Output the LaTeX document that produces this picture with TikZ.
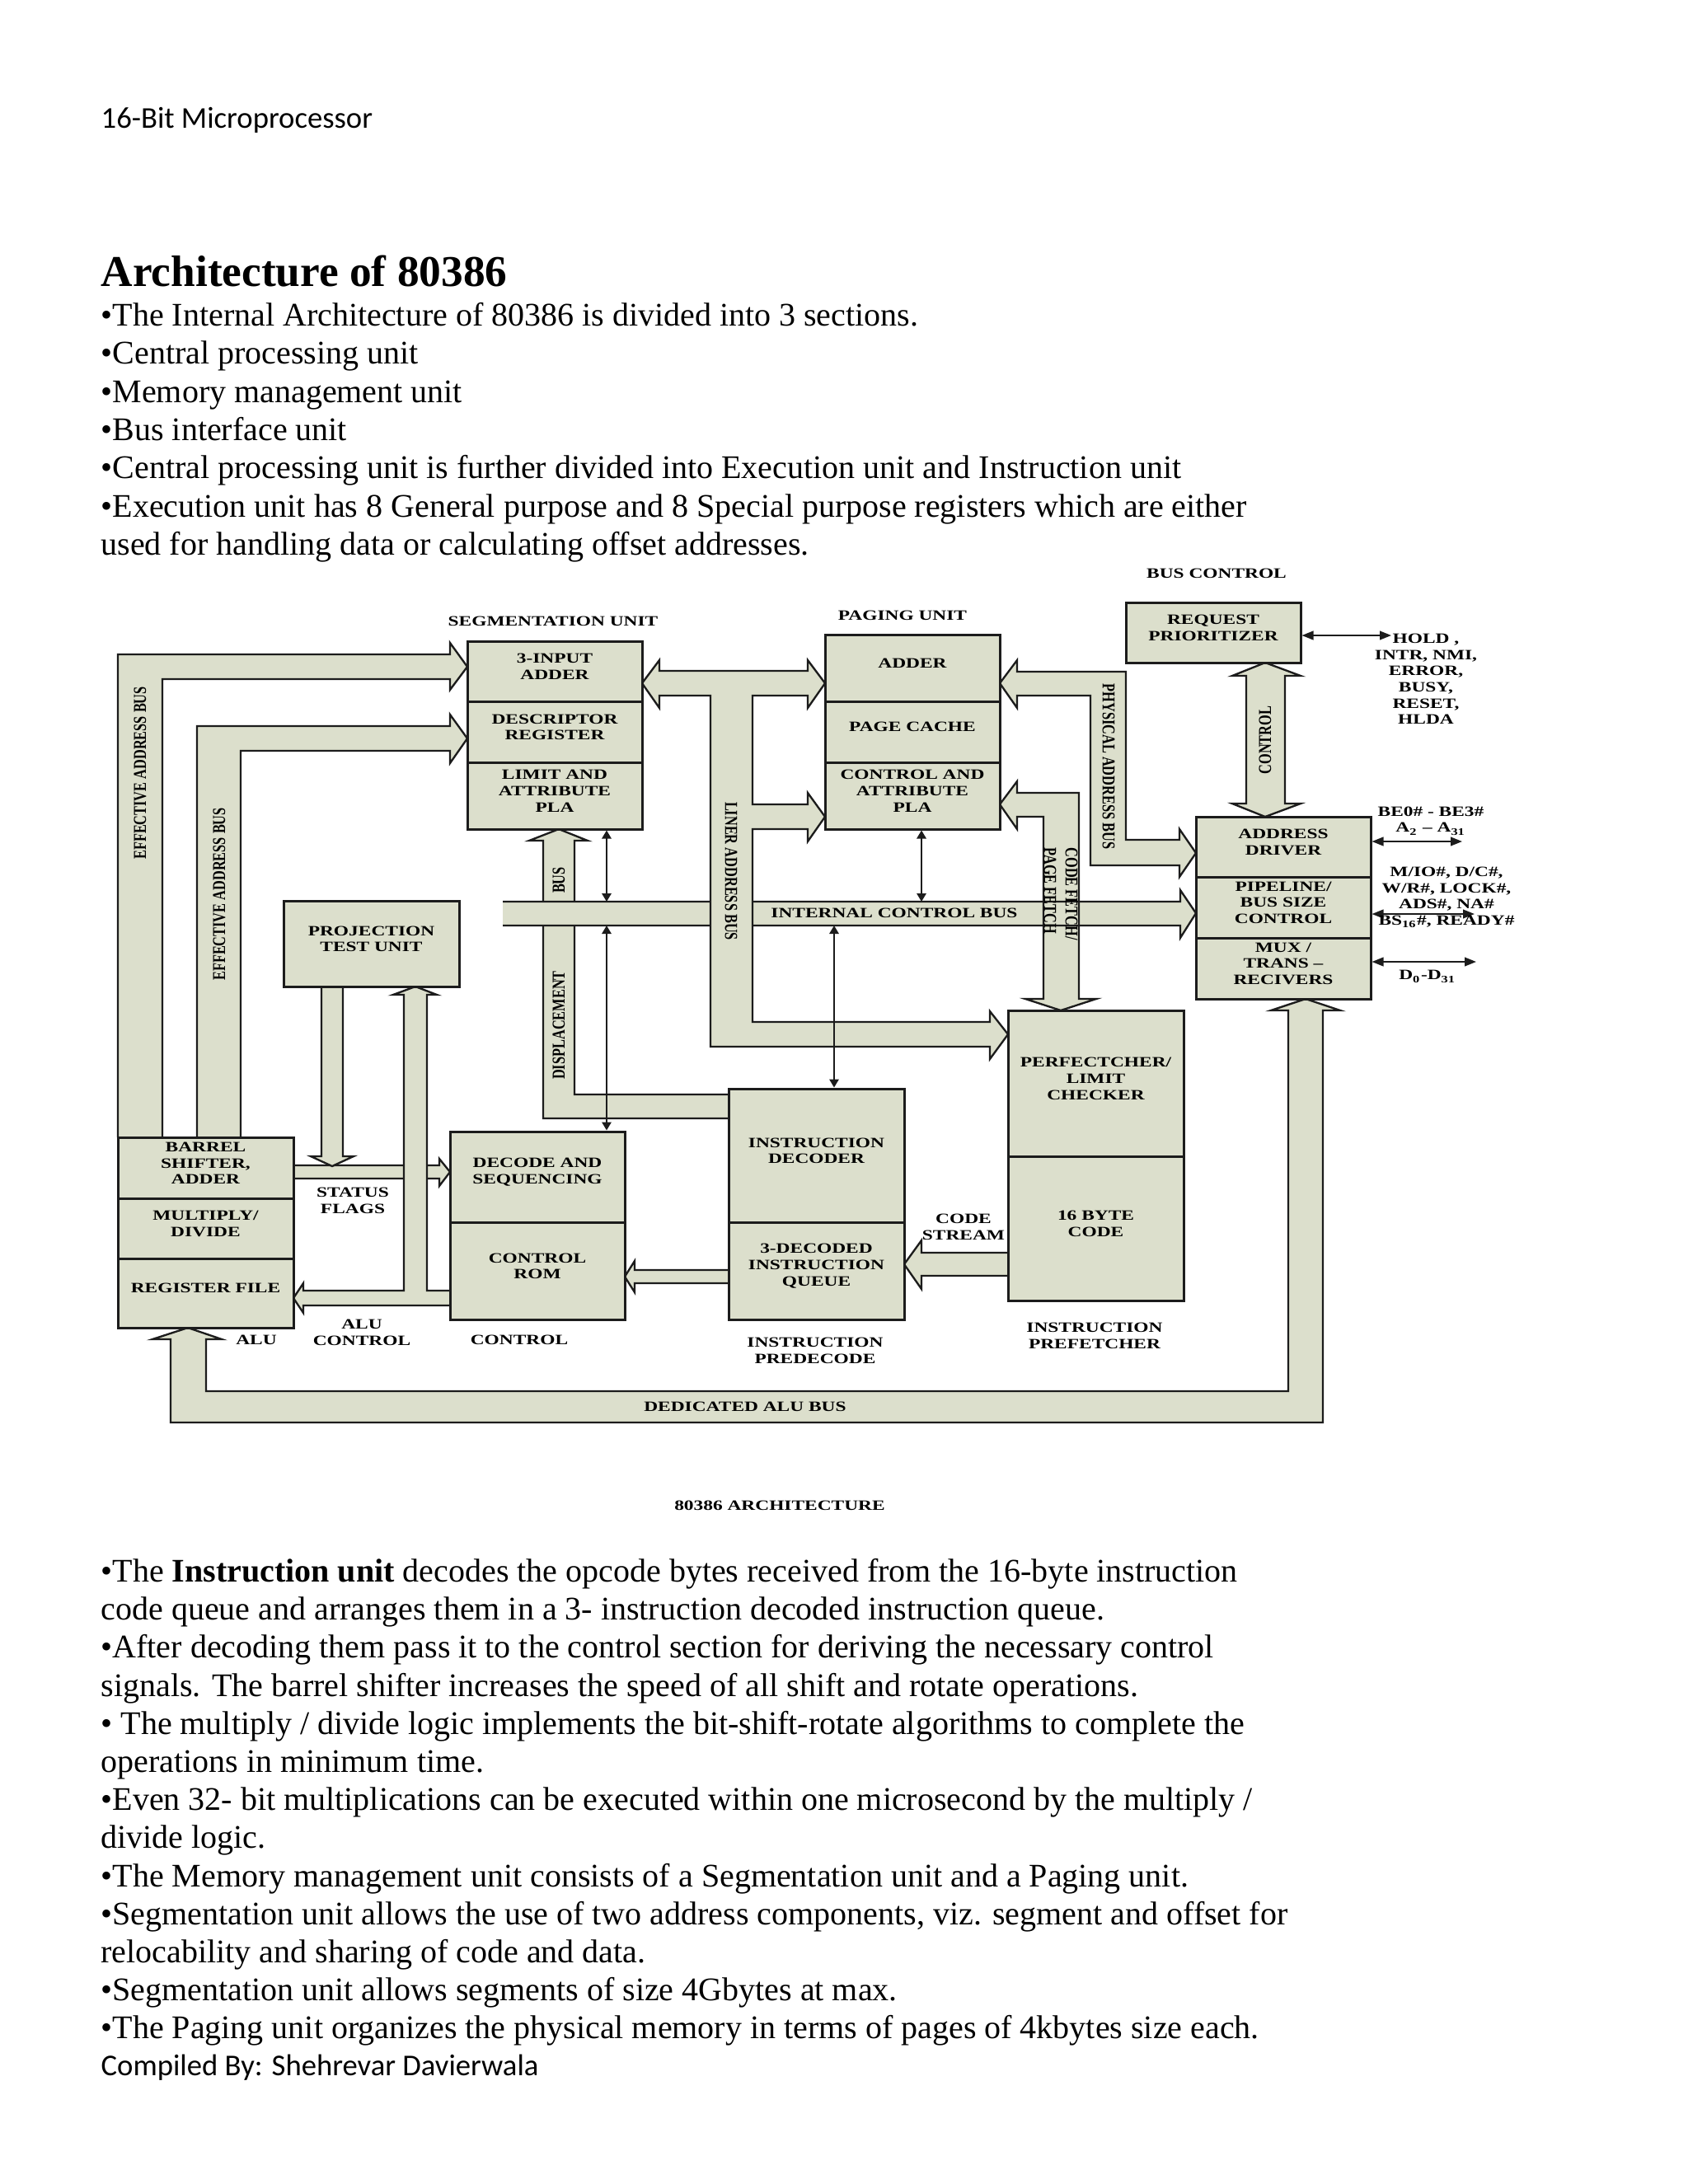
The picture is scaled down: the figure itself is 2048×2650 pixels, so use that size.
\documentclass[tikz,border=0pt]{standalone}
\usepackage{fontspec}
\usepackage{graphicx}
\setmainfont{Liberation Serif}
\newfontfamily\hdrfont{Carlito}
\newfontfamily\dgfont[FakeStretch=1.35]{Liberation Serif}
\newfontfamily\dgrfont{Liberation Serif}
\usetikzlibrary{arrows.meta,fit}
\definecolor{bfill}{RGB}{220,223,204}
\definecolor{lc}{RGB}{28,28,28}
\newcommand\dgf{\dgfont\bfseries\fontsize{5.2}{5.9}\selectfont}
\newcommand\dgrf{\dgrfont\bfseries\fontsize{4.9}{5.5}\selectfont}
\newcommand\busopen[1]{\fill[bfill] #1 -- cycle; \draw[busline] #1;}
\newcommand\busclosed[1]{\filldraw[fill=bfill,busline] #1 -- cycle;}
\begin{document}
\begin{tikzpicture}[x=0.3pt,y=-0.3pt,
  busline/.style={draw=lc,line width=0.7pt,line join=miter},
  blk/.style={draw=lc,line width=0.9pt,fill=bfill,inner sep=0pt,align=center,font=\dgf},
  lbl/.style={inner sep=0pt,align=center,font=\dgf},
  rlbl/.style={inner sep=0pt,font=\dgrf},
  dbl/.style={draw=lc,line width=0.6pt,<->,>={Triangle[length=3pt,width=3.4pt]}},
  sig/.style={draw=lc,line width=0.6pt,<->,>={Triangle[length=4.2pt,width=3.2pt]}},
  body/.style={anchor=base west,inner sep=0pt,font=\fontsize{12}{14}\selectfont},
  hdr/.style={anchor=base west,inner sep=0pt,font=\hdrfont\fontsize{11}{13}\selectfont},
]
\path[use as bounding box,fill=white] (0,0) rectangle (2048,2650);

% ---------- page text ----------
\node[hdr] (hdr) at (122,155) {16-Bit Microprocessor};
\node[body,font=\bfseries\fontsize{16}{19}\selectfont] (title) at (122,347) {Architecture of 80386};
\node[body] (b1) at (122,395) {•The Internal Architecture of 80386 is divided into 3 sections.};
\node[body] (b2) at (122,441) {•Central processing unit};
\node[body] (b3) at (122,488) {•Memory management unit};
\node[body] (b4) at (122,534) {•Bus interface unit};
\node[body] (b5) at (122,580) {•Central processing unit is further divided into Execution unit and Instruction unit};
\node[body] (b6) at (122,627) {•Execution unit has 8 General purpose and 8 Special purpose registers which are either};
\node[body] (b7) at (122,673) {used for handling data or calculating offset addresses.};

\node[body] (c1) at (122,1919) {•The \textbf{Instruction unit} decodes the opcode bytes received from the 16-byte instruction};
\node[body] (c2) at (122,1965) {code queue and arranges them in a 3- instruction decoded instruction queue.};
\node[body] (c3) at (122,2011) {•After decoding them pass it to the control section for deriving the necessary control};
\node[body] (c4) at (122,2058) {signals. The barrel shifter increases the speed of all shift and rotate operations.};
\node[body] (c5) at (122,2104) {• The multiply / divide logic implements the bit-shift-rotate algorithms to complete the};
\node[body] (c6) at (122,2150) {operations in minimum time.};
\node[body] (c7) at (122,2196) {•Even 32- bit multiplications can be executed within one microsecond by the multiply /};
\node[body] (c8) at (122,2242) {divide logic.};
\node[body] (c9) at (122,2289) {•The Memory management unit consists of a Segmentation unit and a Paging unit.};
\node[body] (c10) at (122,2335) {•Segmentation unit allows the use of two address components, viz. segment and offset for};
\node[body] (c11) at (122,2381) {relocability and sharing of code and data.};
\node[body] (c12) at (122,2427) {•Segmentation unit allows segments of size 4Gbytes at max.};
\node[body] (c13) at (122,2473) {•The Paging unit organizes the physical memory in terms of pages of 4kbytes size each.};
\node[hdr] (ftr) at (122,2518) {Compiled By: Shehrevar Davierwala};

% ---------- buses (fat arrows) ----------
% dedicated ALU bus
\busclosed{(228,1611) -- (269,1625) -- (250,1625) -- (250,1688) -- (1563,1688) -- (1563,1226) -- (1542,1226) -- (1584,1212) -- (1626,1226) -- (1605,1226) -- (1605,1726) -- (207,1726) -- (207,1625) -- (185,1625)}
% effective address buses
\busopen{(143,1380) -- (143,794) -- (546,794) -- (546,780) -- (567,809) -- (546,837) -- (546,824) -- (197,824) -- (197,1380)}
\busopen{(239,1380) -- (239,881) -- (546,881) -- (546,867) -- (567,896) -- (546,926) -- (546,911) -- (292,911) -- (292,1380)}
% bus / displacement
\busopen{(884,1357) -- (659,1357) -- (659,1020) -- (642,1020) -- (678,1006) -- (713,1020) -- (697,1020) -- (697,1328) -- (884,1328)}
% code fetch and internal control bus (crossing)
\fill[bfill] (1213,976) -- (1234,948) -- (1234,962) -- (1309,962) -- (1309,1212) -- (1330,1212) -- (1287,1226) -- (1244,1212) -- (1266,1212) -- (1266,991) -- (1234,991) -- (1234,1006) -- cycle;
\fill[bfill] (610,1094) -- (1432,1094) -- (1432,1080) -- (1451,1108) -- (1432,1138) -- (1432,1123) -- (610,1123) -- cycle;
\draw[busline] (610,1094) -- (1432,1094) -- (1432,1080) -- (1451,1108) -- (1432,1138) -- (1432,1123) -- (610,1123);
\draw[busline] (1213,976) -- (1234,948) -- (1234,962) -- (1309,962) -- (1309,1212) -- (1330,1212) -- (1287,1226) -- (1244,1212) -- (1266,1212) -- (1266,991) -- (1234,991) -- (1234,1006) -- cycle;
% segmentation <-> paging + liner address bus
\busclosed{(779,829) -- (800,801) -- (800,814) -- (980,814) -- (980,801) -- (1001,829) -- (980,859) -- (980,844) -- (913,844) -- (913,976) -- (980,976) -- (980,962) -- (1001,991) -- (980,1021) -- (980,1006) -- (913,1006) -- (913,1240) -- (1201,1240) -- (1201,1227) -- (1223,1255) -- (1201,1285) -- (1201,1270) -- (862,1270) -- (862,844) -- (800,844) -- (800,859)}
% physical address bus
\busclosed{(1213,829) -- (1234,801) -- (1234,815) -- (1366,815) -- (1366,1019) -- (1431,1019) -- (1431,1006) -- (1451,1035) -- (1431,1064) -- (1431,1050) -- (1323,1050) -- (1323,844) -- (1234,844) -- (1234,859)}
% control (request prioritizer <-> address driver)
\busclosed{(1535,804) -- (1578,820) -- (1559,820) -- (1559,975) -- (1578,975) -- (1535,991) -- (1495,975) -- (1512,975) -- (1512,820) -- (1495,820)}
% status flags
\busopen{(356,1414) -- (533,1414) -- (533,1406) -- (546,1422) -- (533,1439) -- (533,1430) -- (356,1430)}
% projection test unit -> status flags
\busopen{(390,1197) -- (390,1403) -- (377,1403) -- (403,1415) -- (429,1403) -- (416,1403) -- (416,1197)}
% ALU control + up to projection test unit
\busopen{(546,1566) -- (518,1566) -- (518,1207) -- (530,1207) -- (504,1197) -- (477,1207) -- (490,1207) -- (490,1566) -- (368,1566) -- (368,1557) -- (356,1575) -- (368,1593) -- (368,1584) -- (546,1584)}
% queue -> control ROM
\busopen{(884,1541) -- (770,1541) -- (770,1530) -- (758,1549) -- (770,1568) -- (770,1557) -- (884,1557)}
% code stream
\busopen{(1223,1520) -- (1118,1520) -- (1118,1505) -- (1097,1534) -- (1118,1564) -- (1118,1548) -- (1223,1548)}

% ---------- blocks ----------
\node[blk,fit={(567,778)(779,851)}] (seg1) {3-INPUT\\ADDER};
\node[blk,fit={(567,851)(779,925)}] (seg2) {DESCRIPTOR\\REGISTER};
\node[blk,fit={(567,925)(779,1006)}] (seg3) {LIMIT AND\\ATTRIBUTE\\PLA};
\node[blk,fit={(1001,770)(1213,851)}] (pg1) {ADDER};
\node[blk,fit={(1001,851)(1213,925)}] (pg2) {PAGE CACHE};
\node[blk,fit={(1001,925)(1213,1006)}] (pg3) {CONTROL AND\\ATTRIBUTE\\PLA};
\node[blk,fit={(1366,731)(1578,804)}] (req) {REQUEST\\PRIORITIZER};
\node[blk,fit={(1451,991)(1663,1064)}] (biu1) {ADDRESS\\DRIVER};
\node[blk,fit={(1451,1064)(1663,1138)}] (biu2) {PIPELINE/\\BUS SIZE\\CONTROL};
\node[blk,fit={(1451,1138)(1663,1212)}] (biu3) {MUX /\\TRANS –\\RECIVERS};
\node[blk,fit={(344,1093)(557,1197)}] (ptu) {PROJECTION\\TEST UNIT};
\node[blk,fit={(143,1380)(356,1454)}] (alu1) {BARREL\\SHIFTER,\\ADDER};
\node[blk,fit={(143,1454)(356,1527)}] (alu2) {MULTIPLY/\\DIVIDE};
\node[blk,fit={(143,1527)(356,1611)}] (alu3) {REGISTER FILE};
\node[blk,fit={(546,1373)(758,1483)}] (dec1) {DECODE AND\\SEQUENCING};
\node[blk,fit={(546,1483)(758,1601)}] (dec2) {CONTROL\\ROM};
\node[blk,fit={(884,1321)(1097,1483)}] (id1) {INSTRUCTION\\DECODER};
\node[blk,fit={(884,1483)(1097,1601)}] (id2) {3-DECODED\\INSTRUCTION\\QUEUE};
\node[blk,fit={(1223,1226)(1436,1403)}] (pf1) {PERFECTCHER/\\LIMIT\\CHECKER};
\node[blk,fit={(1223,1403)(1436,1578)}] (pf2) {16 BYTE\\CODE};

% ---------- thin connectors ----------
\coordinate (xa) at (736,0);
\coordinate (xb) at (1118,0);
\coordinate (xc) at (1012,0);
\coordinate (icbT) at (0,1094);
\coordinate (icbB) at (0,1123);
\draw[dbl] (seg3.south -| xa) -- (icbT -| xa);
\draw[dbl] (icbB -| xa) -- (dec1.north -| xa);
\draw[dbl] (pg3.south -| xb) -- (icbT -| xb);
\draw[dbl] (icbB -| xc) -- (id1.north -| xc);
\coordinate (s1) at (1688,771);
\coordinate (s2) at (1774,1021);
\coordinate (s3) at (1789,1109);
\coordinate (s4) at (1791,1167);
\draw[sig] (req.east |- s1) -- (s1);
\draw[sig] (biu1.east |- s2) -- (s2);
\draw[sig] (biu2.east |- s3) -- (s3);
\draw[sig] (biu3.east |- s4) -- (s4);

% ---------- labels ----------
\node[lbl] (lseg) at (671,754) {SEGMENTATION UNIT};
\node[lbl] (lpg) at (1095,747) {PAGING UNIT};
\node[lbl] (lbc) at (1476,696) {BUS CONTROL};
\node[lbl] (lhold) at (1730,824) {HOLD ,\\INTR, NMI,\\ERROR,\\BUSY,\\RESET,\\HLDA};
\node[lbl] (lbe) at (1736,996) {BE0\# - BE3\#\\A\textsubscript{2} – A\textsubscript{31}};
\node[lbl] (lmio) at (1755,1089) {M/IO\#, D/C\#,\\W/R\#, LOCK\#,\\ADS\#, NA\#\\BS\textsubscript{16}\#, READY\#};
\node[lbl] (ld) at (1732,1185) {D\textsubscript{0}-D\textsubscript{31}};
\node[lbl] (licb) at (1085,1108) {INTERNAL CONTROL BUS};
\node[lbl] (lsf) at (428,1457) {STATUS\\FLAGS};
\node[lbl] (lalu) at (311,1626) {ALU};
\node[lbl] (lac) at (439,1617) {ALU\\CONTROL};
\node[lbl] (lctl) at (630,1626) {CONTROL};
\node[lbl] (lpre) at (989,1639) {INSTRUCTION\\PREDECODE};
\node[lbl] (lpf) at (1328,1621) {INSTRUCTION\\PREFETCHER};
\node[lbl] (lcs) at (1169,1489) {CODE\\STREAM};
\node[lbl] (ldab) at (904,1707) {DEDICATED ALU BUS};
\node[lbl] (larch) at (946,1827) {80386 ARCHITECTURE};

\node[rlbl,rotate=90] (leab1) at (170,938) {\scalebox{1}[1.35]{EFFECTIVE ADDRESS BUS}};
\node[rlbl,rotate=90] (leab2) at (266,1085) {\scalebox{1}[1.35]{EFFECTIVE ADDRESS BUS}};
\node[rlbl,rotate=90] (lbus) at (678,1068) {\scalebox{1}[1.35]{BUS}};
\node[rlbl,rotate=90] (ldisp) at (678,1244) {\scalebox{1}[1.35]{DISPLACEMENT}};
\node[rlbl,rotate=-90] (lliner) at (887,1057) {\scalebox{1}[1.35]{LINER ADDRESS BUS}};
\node[rlbl,rotate=-90] (lphys) at (1345,930) {\scalebox{1}[1.35]{PHYSICAL ADDRESS BUS}};
\node[rlbl,rotate=-90,anchor=west] (lcf) at (1300,1028) {\scalebox{1}[1.35]{CODE FETCH/}};
\node[rlbl,rotate=-90,anchor=west] (lpf2) at (1274,1028) {\scalebox{1}[1.35]{PAGE FETCH}};
\node[rlbl,rotate=90] (lcontrol) at (1535,898) {\scalebox{1}[1.35]{CONTROL}};
\end{tikzpicture}
\end{document}
